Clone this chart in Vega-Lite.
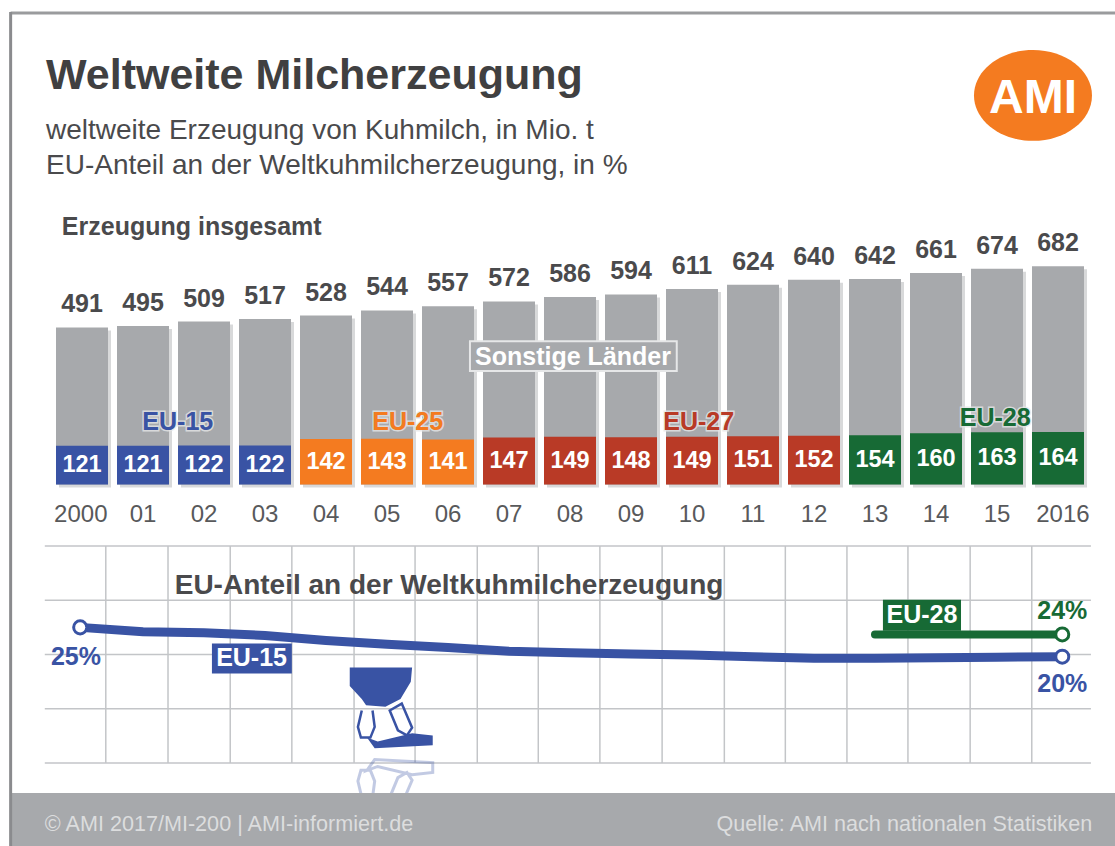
{
"$schema":"https://vega.github.io/schema/vega-lite/v6.json",
"width":1115,"height":846,"padding":0,"autosize":{"type":"none"},
"background":"white",
"config":{"view":{"stroke":null},"text":{"font":"Liberation Sans"},"title":{"font":"Liberation Sans"}},
"title":{"text":"Weltweite Milcherzeugung","subtitle":["weltweite Erzeugung von Kuhmilch, in Mio. t","EU-Anteil an der Weltkuhmilcherzeugung, in %"],"anchor":"start","frame":"group","orient":"top","dx":46,"dy":184,"fontSize":43,"fontWeight":"bold","color":"#404041","subtitleFont":"Liberation Sans","subtitleFontSize":28,"subtitleColor":"#4a4a4c","subtitleLineHeight":35,"subtitlePadding":19},
"datasets":{
"milk":[
{"year":2000,"total":491,"eu":121,"group":"EU-15"},{"year":2001,"total":495,"eu":121,"group":"EU-15"},{"year":2002,"total":509,"eu":122,"group":"EU-15"},{"year":2003,"total":517,"eu":122,"group":"EU-15"},
{"year":2004,"total":528,"eu":142,"group":"EU-25"},{"year":2005,"total":544,"eu":143,"group":"EU-25"},{"year":2006,"total":557,"eu":141,"group":"EU-25"},
{"year":2007,"total":572,"eu":147,"group":"EU-27"},{"year":2008,"total":586,"eu":149,"group":"EU-27"},{"year":2009,"total":594,"eu":148,"group":"EU-27"},{"year":2010,"total":611,"eu":149,"group":"EU-27"},{"year":2011,"total":624,"eu":151,"group":"EU-27"},{"year":2012,"total":640,"eu":152,"group":"EU-27"},
{"year":2013,"total":642,"eu":154,"group":"EU-28"},{"year":2014,"total":661,"eu":160,"group":"EU-28"},{"year":2015,"total":674,"eu":163,"group":"EU-28"},{"year":2016,"total":682,"eu":164,"group":"EU-28"}],
"yearLabels":[
{"year":1999.98,"total":0,"label":"2000"},{"year":2001,"total":0,"label":"01"},{"year":2002,"total":0,"label":"02"},{"year":2003,"total":0,"label":"03"},{"year":2004,"total":0,"label":"04"},{"year":2005,"total":0,"label":"05"},{"year":2006,"total":0,"label":"06"},{"year":2007,"total":0,"label":"07"},{"year":2008,"total":0,"label":"08"},{"year":2009,"total":0,"label":"09"},{"year":2010,"total":0,"label":"10"},{"year":2011,"total":0,"label":"11"},{"year":2012,"total":0,"label":"12"},{"year":2013,"total":0,"label":"13"},{"year":2014,"total":0,"label":"14"},{"year":2015,"total":0,"label":"15"},{"year":2016.08,"total":0,"label":"2016"}],
"euLabels":[{"year":2001.57,"value":195,"group":"EU-15"},{"year":2005.34,"value":195,"group":"EU-25"},{"year":2010.11,"value":195,"group":"EU-27"},{"year":2014.97,"value":208,"group":"EU-28"}],
"share15":[
{"year":1999.97,"share":25.0},{"year":2001,"share":24.2},{"year":2002,"share":24.0},{"year":2003,"share":23.5},{"year":2004,"share":22.6},{"year":2005,"share":21.9},{"year":2006,"share":21.3},{"year":2007,"share":20.6},{"year":2008,"share":20.3},{"year":2009,"share":20.1},{"year":2010,"share":19.9},{"year":2011,"share":19.6},{"year":2012,"share":19.3},{"year":2013,"share":19.3},{"year":2014,"share":19.4},{"year":2015,"share":19.5},{"year":2016.07,"share":19.6}],
"share28":[{"year":2013,"share":23.7},{"year":2014,"share":23.7},{"year":2015,"share":23.7},{"year":2016.07,"share":23.7}],
"gridV":[{"year":2000.39,"share":0,"shareEnd":40},{"year":2001.41,"share":0,"shareEnd":40},{"year":2002.43,"share":0,"shareEnd":40},{"year":2003.44,"share":0,"shareEnd":40},{"year":2004.46,"share":0,"shareEnd":40},{"year":2005.46,"share":0,"shareEnd":40},{"year":2006.48,"share":0,"shareEnd":40},{"year":2007.48,"share":0,"shareEnd":40},{"year":2008.49,"share":0,"shareEnd":40},{"year":2009.51,"share":0,"shareEnd":40},{"year":2010.53,"share":0,"shareEnd":40},{"year":2011.53,"share":0,"shareEnd":40},{"year":2012.54,"share":0,"shareEnd":40},{"year":2013.54,"share":0,"shareEnd":40},{"year":2014.56,"share":0,"shareEnd":40},{"year":2015.57,"share":0,"shareEnd":40}],
"gridH":[{"year":1999.39,"yearEnd":2016.54,"share":0},{"year":1999.39,"yearEnd":2016.54,"share":10},{"year":1999.39,"yearEnd":2016.54,"share":20},{"year":1999.39,"yearEnd":2016.54,"share":30},{"year":1999.39,"yearEnd":2016.54,"share":40}]
},
"encoding":{"x":{"field":"year","type":"quantitative","axis":null,"scale":{"domain":[1999,2017],"range":[21,1119],"padding":0}}},
"layer":[
{"encoding":{"y":{"field":"share","type":"quantitative","axis":null,"scale":{"domain":[0,40],"range":[763,546]}}},
"layer":[
{"data":{"name":"gridV"},"mark":{"type":"rule","color":"#c3c5c8","strokeWidth":1.5},"encoding":{"y2":{"field":"shareEnd"}}},
{"data":{"name":"gridH"},"mark":{"type":"rule","color":"#c3c5c8","strokeWidth":1.5},"encoding":{"x2":{"field":"yearEnd"}}},
{"data":{"values":[{"year":2001.52,"share":32.7,"label":"EU-Anteil an der Weltkuhmilcherzeugung"}]},"mark":{"type":"text","align":"left","baseline":"middle","fontSize":28,"fontWeight":"bold","color":"#4a4a4c"},"encoding":{"text":{"field":"label"}}},
{"data":{"values":[{"year":2005.08,"share":-6.9}]},"mark":{"type":"point","filled":false,"stroke":"#3953a4","strokeWidth":3,"opacity":0.3,"size":7396,"shape":"M-.7 -.07 L-.79 -.45 L-.72 -.7 L-.5 -.7 L-.4 -.45 L-.45 -.07 M-.05 -.07 L.23 .09 L.47 -.47 L.35 -.65 L.14 -.53Z M-.58 -.7 L-.4 -.95 L.95 -.88 L.95 -.65 L.47 -.6 L-.33 -.79Z"}},
{"data":{"values":[{"year":2005.08,"share":10.23}]},"mark":{"type":"point","filled":true,"fill":"#3953a4","opacity":1,"size":7396,"shape":"M-.98 -.93 L.47 -.93 L.44 -.6 L.2 -.2 L-.15 -.02 L-.6 -.05 L-.7 -.2 L-.98 -.5Z M-.58 .7 L-.4 .95 L.95 .88 L.95 .65 L.47 .6 L-.33 .79Z"}},
{"data":{"values":[{"year":2005.08,"share":10.23}]},"mark":{"type":"point","filled":false,"stroke":"#3953a4","strokeWidth":2.5,"opacity":1,"size":7396,"shape":"M-.7 .07 L-.79 .45 L-.72 .7 L-.5 .7 L-.4 .45 L-.45 .07 M-.05 .07 L.23 -.09 L.47 .47 L.35 .65 L.14 .53Z"}},
{"data":{"name":"share15"},"mark":{"type":"line","color":"#3953a4","strokeWidth":9,"strokeCap":"round"}},
{"data":{"name":"share28"},"mark":{"type":"line","color":"#176a35","strokeWidth":8,"strokeCap":"round"}},
{"data":{"values":[{"year":2002.13,"yearEnd":2003.44,"share":22.03,"shareEnd":16.5}]},"mark":{"type":"rect","color":"#3953a4"},"encoding":{"x2":{"field":"yearEnd"},"y2":{"field":"shareEnd"}}},
{"data":{"values":[{"year":2013.13,"yearEnd":2014.41,"share":30.1,"shareEnd":24.4}]},"mark":{"type":"rect","color":"#176a35"},"encoding":{"x2":{"field":"yearEnd"},"y2":{"field":"shareEnd"}}},
{"data":{"values":[{"year":2002.78,"share":19.3,"label":"EU-15"},{"year":2013.77,"share":27.2,"label":"EU-28"}]},"mark":{"type":"text","baseline":"middle","fontSize":25,"fontWeight":"bold","color":"white"},"encoding":{"text":{"field":"label"}}},
{"data":{"values":[{"year":1999.97,"share":25.0}]},"mark":{"type":"point","filled":true,"fill":"white","stroke":"#3953a4","strokeWidth":3,"opacity":1,"size":170}},
{"data":{"values":[{"year":2016.07,"share":19.6}]},"mark":{"type":"point","filled":true,"fill":"white","stroke":"#3953a4","strokeWidth":3,"opacity":1,"size":170}},
{"data":{"values":[{"year":2016.07,"share":23.7}]},"mark":{"type":"point","filled":true,"fill":"white","stroke":"#176a35","strokeWidth":3,"opacity":1,"size":170}},
{"data":{"values":[{"year":1999.9,"share":19.45,"label":"25%"},{"year":2016.07,"share":14.65,"label":"20%"}]},"mark":{"type":"text","baseline":"middle","fontSize":25,"fontWeight":"bold","color":"#3953a4"},"encoding":{"text":{"field":"label"}}},
{"data":{"values":[{"year":2016.07,"share":28.1,"label":"24%"}]},"mark":{"type":"text","baseline":"middle","fontSize":25,"fontWeight":"bold","color":"#176a35"},"encoding":{"text":{"field":"label"}}}
]},
{"encoding":{"y":{"field":"f","type":"quantitative","axis":null,"scale":{"domain":[0,1],"range":[0,846]}}},
"layer":[
{"data":{"values":[{"year":1998.83,"yearEnd":2017,"f":0.9374,"fEnd":1}]},"mark":{"type":"rect","color":"#a7a9ac"},"encoding":{"x2":{"field":"yearEnd"},"y2":{"field":"fEnd"}}},
{"data":{"values":[{"year":1998.83,"yearEnd":2017,"f":0.0154}]},"mark":{"type":"rule","color":"#9a9b9d","strokeWidth":3},"encoding":{"x2":{"field":"yearEnd"}}},
{"data":{"values":[{"year":1998.83,"f":0.0142,"fEnd":1}]},"mark":{"type":"rule","color":"#8a8b8e","strokeWidth":3},"encoding":{"y2":{"field":"fEnd"}}},
{"data":{"values":[{"year":1999.39,"f":0.975,"label":"© AMI 2017/MI-200 | AMI-informiert.de"}]},"mark":{"type":"text","align":"left","baseline":"middle","fontSize":21.6,"color":"#dcddde"},"encoding":{"text":{"field":"label"}}},
{"data":{"values":[{"year":2016.56,"f":0.975,"label":"Quelle: AMI nach nationalen Statistiken"}]},"mark":{"type":"text","align":"right","baseline":"middle","fontSize":21.6,"color":"#dcddde"},"encoding":{"text":{"field":"label"}}}
]},
{"encoding":{"y":{"field":"total","type":"quantitative","axis":null,"scale":{"domain":[0,1000],"range":[484.5,164.5]}}},
"layer":[
{"data":{"name":"milk"},"mark":{"type":"bar","orient":"vertical","width":52,"color":"#8f9296","opacity":0.35,"xOffset":3,"yOffset":3}},
{"data":{"name":"milk"},"mark":{"type":"bar","orient":"vertical","width":52,"color":"#a7a9ac"}},
{"data":{"name":"milk"},"mark":{"type":"bar","orient":"vertical","width":52},"encoding":{"y":{"field":"eu","type":"quantitative"},"color":{"field":"group","type":"nominal","legend":null,"scale":{"domain":["EU-15","EU-25","EU-27","EU-28"],"range":["#3953a4","#f47b20","#b93a26","#176a35"]}}}},
{"data":{"name":"milk"},"mark":{"type":"text","baseline":"middle","dy":-23,"fontSize":25,"fontWeight":"bold","color":"#4a4a4c"},"encoding":{"text":{"field":"total","type":"quantitative"}}},
{"data":{"name":"milk"},"transform":[{"calculate":"datum.eu/2","as":"mid"}],"mark":{"type":"text","baseline":"middle","fontSize":23.5,"fontWeight":"bold","color":"white"},"encoding":{"y":{"field":"mid","type":"quantitative"},"text":{"field":"eu","type":"quantitative"}}},
{"data":{"name":"yearLabels"},"mark":{"type":"text","baseline":"middle","dy":30,"fontSize":24,"color":"#58595b"},"encoding":{"text":{"field":"label"}}},
{"data":{"values":[{"year":1999.67,"total":805,"label":"Erzeugung insgesamt"}]},"mark":{"type":"text","align":"left","baseline":"middle","fontSize":25,"fontWeight":"bold","color":"#4a4a4c"},"encoding":{"text":{"field":"label"}}},
{"data":{"values":[{"year":2006.36,"yearEnd":2009.75,"total":448,"totalEnd":355}]},"mark":{"type":"rect","fill":"#a7a9ac","stroke":"#e6e7e8","strokeWidth":2},"encoding":{"x2":{"field":"yearEnd"},"y2":{"field":"totalEnd"}}},
{"data":{"values":[{"year":2008.05,"total":400,"label":"Sonstige Länder"}]},"mark":{"type":"text","baseline":"middle","fontSize":25,"fontWeight":"bold","color":"white"},"encoding":{"text":{"field":"label"}}},
{"data":{"name":"euLabels"},"mark":{"type":"text","baseline":"middle","fontSize":25,"fontWeight":"bold","stroke":"#e6e7e8","strokeWidth":3,"strokeOpacity":0.8},"encoding":{"y":{"field":"value","type":"quantitative"},"text":{"field":"group"}}},
{"data":{"name":"euLabels"},"mark":{"type":"text","baseline":"middle","fontSize":25,"fontWeight":"bold"},"encoding":{"y":{"field":"value","type":"quantitative"},"text":{"field":"group"},"color":{"field":"group","type":"nominal","legend":null}}},
{"data":{"values":[{"year":2015.59,"total":1216}]},"mark":{"type":"point","filled":true,"fill":"#f47b20","opacity":1,"size":13924,"shape":"M-1 0 A1 .77 0 1 1 1 0 A1 .77 0 1 1 -1 0Z"}},
{"data":{"values":[{"year":2015.59,"total":1206,"label":"AMI"}]},"mark":{"type":"text","baseline":"middle","fontSize":48,"fontWeight":"bold","color":"white"},"encoding":{"text":{"field":"label"}}}
]}
],
"resolve":{"scale":{"y":"independent"}}
}
